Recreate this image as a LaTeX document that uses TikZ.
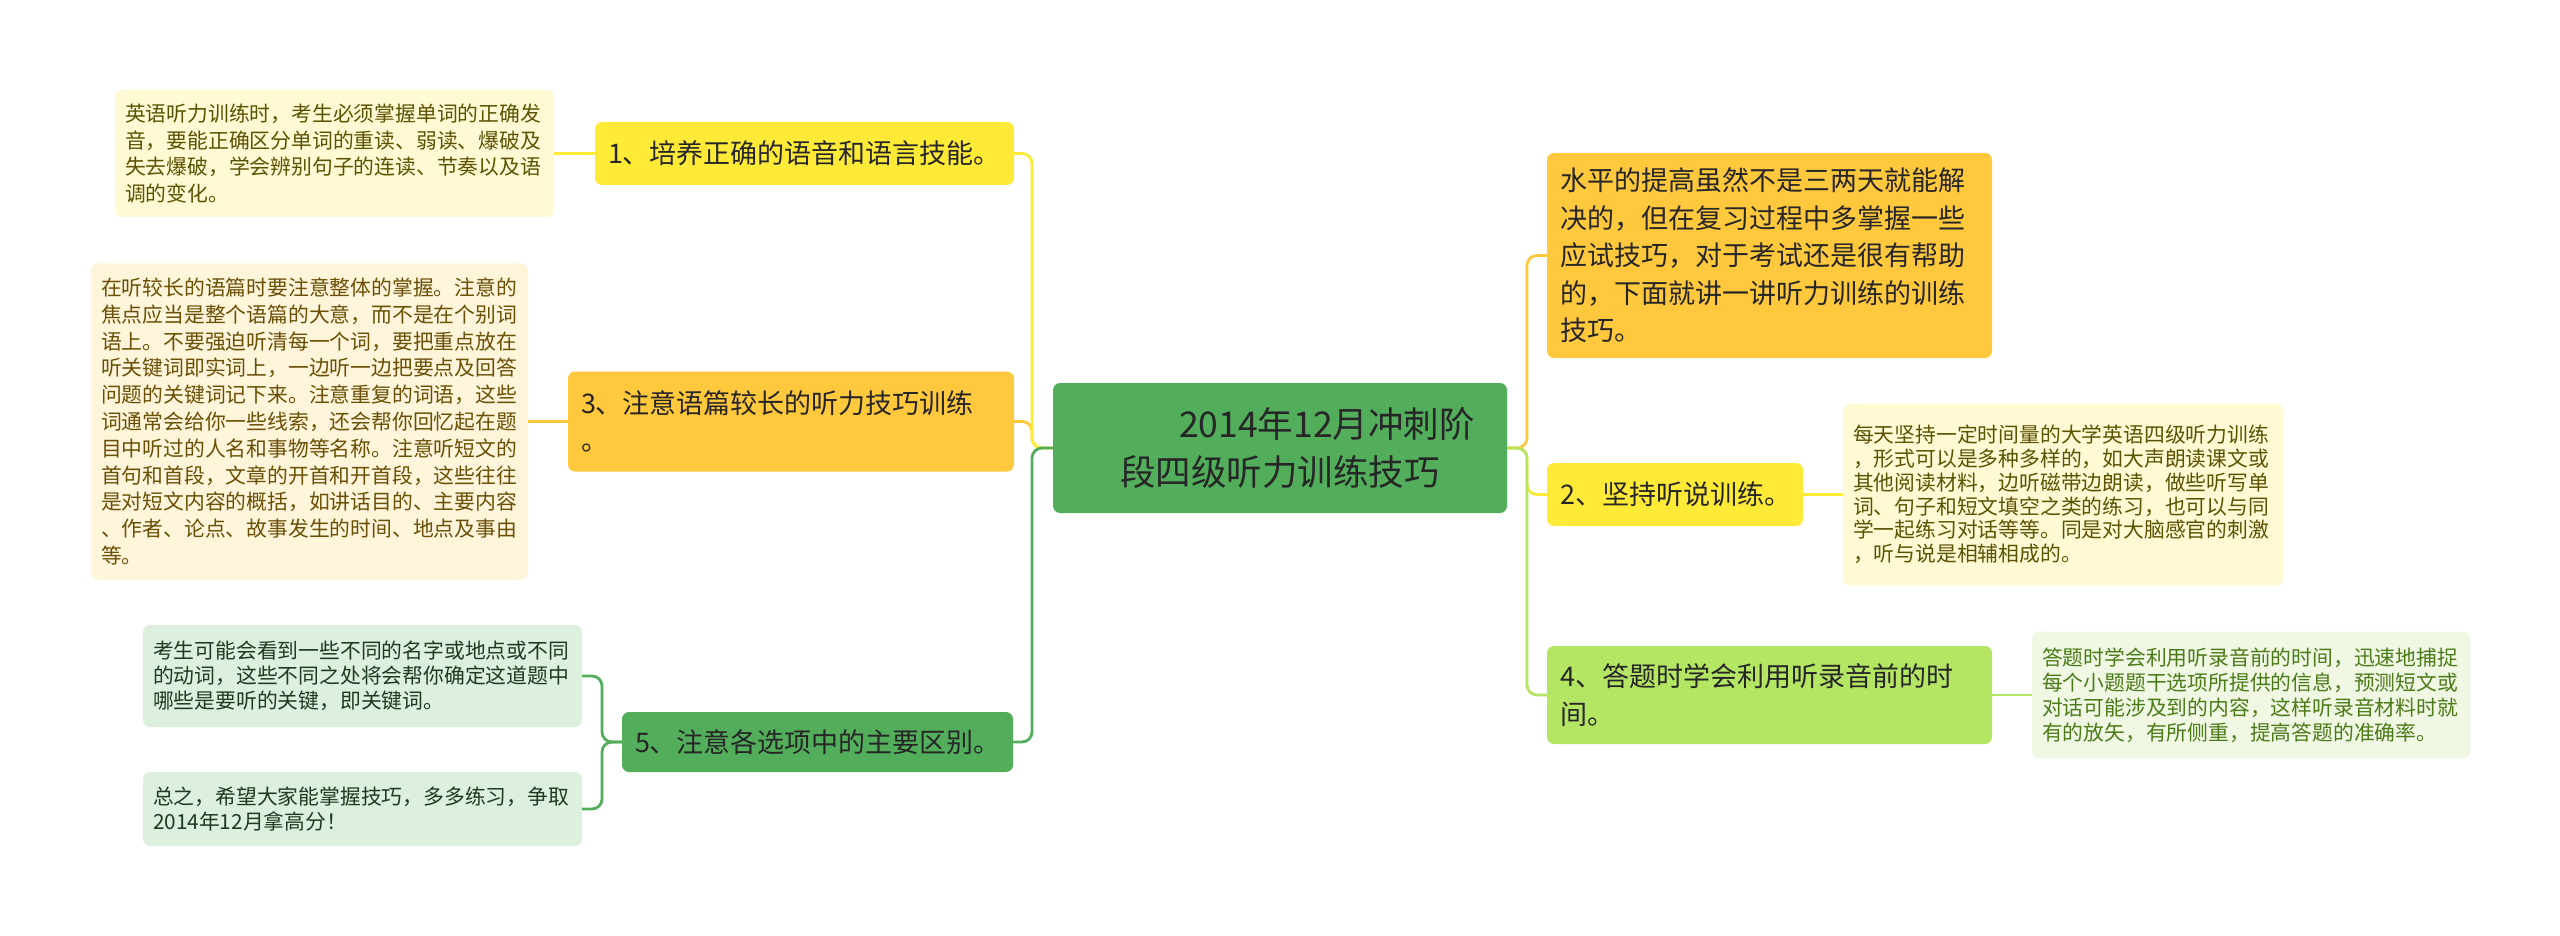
\documentclass[tikz,border=0pt]{standalone}
\usepackage{fontspec}
\setmainfont{Noto Sans CJK SC}
\usepackage{tikz}
\definecolor{rootgreen}{HTML}{53AE5C}
\definecolor{topicyellow}{HTML}{FFEA38}
\definecolor{topicorange}{HTML}{FFC83D}
\definecolor{topiclime}{HTML}{B4E563}
\definecolor{noteyellow}{HTML}{FFFAD3}
\definecolor{notecream}{HTML}{FEF5DB}
\definecolor{notemint}{HTML}{DDEFDE}
\definecolor{notelime}{HTML}{F0F8E4}
\definecolor{inkolive}{HTML}{5C5203}
\definecolor{inkbrown}{HTML}{6A4F05}
\definecolor{inkgreen}{HTML}{1E3A20}
\definecolor{inklime}{HTML}{4B7A18}
\definecolor{inkdark}{HTML}{262626}
\begin{document}
\begin{tikzpicture}[x = 1pt, y = -1pt,
      link/.style = {line width = 2.8pt, rounded corners = 10pt},
      topic/.style = {rounded corners = 7pt, align = left, inner xsep = 13pt, inner ysep = 0pt, text = inkdark,
                      font = \fontsize{27pt}{37.5pt}\selectfont},
      note/.style = {rounded corners = 7pt, align = left, inner xsep = 10pt, inner ysep = 0pt,
                     font = \fontsize{20.8pt}{25pt}\selectfont}]
      \fill [white] (0, 0) rectangle (2560, 936);
      \node [topic, fill = rootgreen, align = center, text width = 394pt, minimum width = 454pt, minimum height = 130pt,
             font = \fontsize{35.5pt}{48pt}\selectfont] (root) at (1280, 448)
            {\hspace*{94pt}2014年12月冲刺阶\\段四级听力训练技巧};
      \node [topic, fill = topicyellow, text width = 393pt, minimum width = 419pt, minimum height = 63pt] (skill1) at (804.5, 153.5)
            {1、培养正确的语音和语言技能。};
      \node [topic, fill = topicorange, text width = 420pt, minimum width = 446pt, minimum height = 100pt] (skill3) at (791, 421.5)
            {3、注意语篇较长的听力技巧训练\\。};
      \node [topic, fill = rootgreen, text width = 365pt, minimum width = 391pt, minimum height = 60pt] (skill5) at (817.5, 742)
            {5、注意各选项中的主要区别。};
      \node [topic, fill = topicorange, text width = 419pt, minimum width = 445pt, minimum height = 205pt] (intro) at (1769.5, 255.5)
            {水平的提高虽然不是三两天就能解\\决的，但在复习过程中多掌握一些\\应试技巧，对于考试还是很有帮助\\的，下面就讲一讲听力训练的训练\\技巧。};
      \node [topic, fill = topicyellow, text width = 230pt, minimum width = 256pt, minimum height = 63pt] (skill2) at (1675, 494.5)
            {2、坚持听说训练。};
      \node [topic, fill = topiclime, text width = 419pt, minimum width = 445pt, minimum height = 98pt] (skill4) at (1769.5, 695)
            {4、答题时学会利用听录音前的时\\间。};
      \node [note, fill = noteyellow, text = inkolive, text width = 419pt, minimum width = 439pt, minimum height = 127pt,
             font = \fontsize{20.8pt}{26.8pt}\selectfont] (tip1) at (334.5, 153.5)
            {英语听力训练时，考生必须掌握单词的正确发\\音，要能正确区分单词的重读、弱读、爆破及\\失去爆破，学会辨别句子的连读、节奏以及语\\调的变化。};
      \node [note, fill = notecream, text = inkbrown, text width = 417pt, minimum width = 437pt, minimum height = 316pt,
             font = \fontsize{20.8pt}{26.8pt}\selectfont] (tip3) at (309.5, 421.5)
            {在听较长的语篇时要注意整体的掌握。注意的\\焦点应当是整个语篇的大意，而不是在个别词\\语上。不要强迫听清每一个词，要把重点放在\\听关键词即实词上，一边听一边把要点及回答\\问题的关键词记下来。注意重复的词语，这些\\词通常会给你一些线索，还会帮你回忆起在题\\目中听过的人名和事物等名称。注意听短文的\\首句和首段，文章的开首和开首段，这些往往\\是对短文内容的概括，如讲话目的、主要内容\\、作者、论点、故事发生的时间、地点及事由\\等。};
      \node [note, fill = notemint, text = inkgreen, text width = 419pt, minimum width = 439pt, minimum height = 102pt] (tip5a) at (362.5, 676)
            {考生可能会看到一些不同的名字或地点或不同\\的动词，这些不同之处将会帮你确定这道题中\\哪些是要听的关键，即关键词。};
      \node [note, fill = notemint, text = inkgreen, text width = 419pt, minimum width = 439pt, minimum height = 74pt] (tip5b) at (362.5, 809)
            {总之，希望大家能掌握技巧，多多练习，争取\\2014年12月拿高分！};
      \node [note, fill = noteyellow, text = inkolive, text width = 420pt, minimum width = 440pt, minimum height = 182pt,
             font = \fontsize{20.8pt}{23.8pt}\selectfont] (tip2) at (2063, 494.5)
            {每天坚持一定时间量的大学英语四级听力训练\\，形式可以是多种多样的，如大声朗读课文或\\其他阅读材料，边听磁带边朗读，做些听写单\\词、句子和短文填空之类的练习，也可以与同\\学一起练习对话等等。同是对大脑感官的刺激\\，听与说是相辅相成的。};
      \node [note, fill = notelime, text = inklime, text width = 418pt, minimum width = 438pt, minimum height = 127pt] (tip4) at (2251, 695)
            {答题时学会利用听录音前的时间，迅速地捕捉\\每个小题题干选项所提供的信息，预测短文或\\对话可能涉及到的内容，这样听录音材料时就\\有的放矢，有所侧重，提高答题的准确率。};
      \coordinate (lspine) at (1032, 448);
      \coordinate (rspine) at (1527, 448);
      \coordinate (fork5) at (602, 742);
      \draw [link, topicorange] (root.west) -- (lspine) |- (skill3.east);
      \draw [link, topicyellow] (root.west) -- (lspine) |- (skill1.east);
      \draw [link, rootgreen] (root.west) -- (lspine) |- (skill5.east);
      \draw [link, topicorange] (root.east) -- (rspine) |- (intro.west);
      \draw [link, topicyellow] (root.east) -- (rspine) |- (skill2.west);
      \draw [link, topiclime] (root.east) -- (rspine) |- (skill4.west);
      \draw [link, topicyellow] (skill1.west) -- (tip1.east);
      \draw [link, topicorange] (skill3.west) -- (tip3.east);
      \draw [link, rootgreen] (skill5.west) -- (fork5) |- (tip5a.east);
      \draw [link, rootgreen] (skill5.west) -- (fork5) |- (tip5b.east);
      \draw [link, topicyellow] (skill2.east) -- (tip2.west);
      \draw [link, topiclime] (skill4.east) -- (tip4.west);
    \end{tikzpicture}
\end{document}
